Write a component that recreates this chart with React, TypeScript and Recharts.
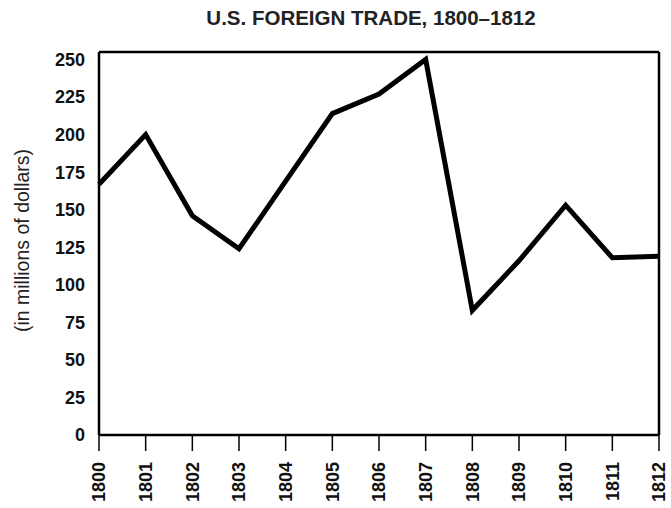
import React from 'react'
import { LineChart, Line, XAxis, YAxis, ReferenceLine } from 'recharts'

const years = ['1800', '1801', '1802', '1803', '1804', '1805', '1806', '1807', '1808', '1809', '1810', '1811', '1812']
const trade = [167, 200, 146, 124, 169, 214, 227, 250, 83, 116, 153, 118, 119]
const yTicks = [0, 25, 50, 75, 100, 125, 150, 175, 200, 225, 250]

const data = years.map((year, i) => ({ year, trade: trade[i] }))

const FONT = '"Liberation Sans", Arial, Helvetica, sans-serif'

const YearTick = (props: any) => {
    const { x, y, payload } = props
    return (
        <text
            x={x}
            y={y}
            transform={`rotate(-90, ${x}, ${y})`}
            textAnchor="end"
            dy="0.36em"
            fontFamily={FONT}
            fontWeight="bold"
            fontSize={18}
            fill="#111"
        >
            {payload.value}
        </text>
    )
}

const App = () => {
    return (
        <div style={{ position: 'absolute', top: 0, left: 0, width: 671, height: 508, background: '#fff' }}>
            <div
                style={{
                    position: 'absolute',
                    top: 6,
                    left: 91,
                    width: 560,
                    textAlign: 'center',
                    fontFamily: FONT,
                    fontWeight: 'bold',
                    fontSize: 20.5,
                    color: '#222',
                }}
            >
                U.S. FOREIGN TRADE, 1800–1812
            </div>
            <LineChart
                width={671}
                height={508}
                data={data}
                margin={{ top: 52, right: 12, bottom: 0, left: 0 }}
            >
                <XAxis
                    dataKey="year"
                    height={73}
                    axisLine={{ stroke: '#000', strokeWidth: 2.5 }}
                    tickLine={{ stroke: '#000', strokeWidth: 1.5 }}
                    tickSize={16}
                    tickMargin={11}
                    interval={0}
                    tick={<YearTick />}
                />
                <YAxis
                    domain={[0, 255]}
                    ticks={yTicks}
                    interval={0}
                    width={99}
                    axisLine={{ stroke: '#000', strokeWidth: 2.5 }}
                    tickLine={false}
                    tickSize={6}
                    tickMargin={8}
                    tick={{ fill: '#111', fontFamily: FONT, fontWeight: 'bold', fontSize: 18 }}
                    label={{
                        value: '(in millions of dollars)',
                        angle: -90,
                        position: 'insideLeft',
                        offset: 22,
                        dy: -3,
                        style: { textAnchor: 'middle', fill: '#222', fontFamily: FONT, fontSize: 19.5 },
                    }}
                />
                <ReferenceLine y={255} stroke="#000" strokeWidth={2.5} />
                <ReferenceLine x="1812" stroke="#000" strokeWidth={2.5} />
                <Line
                    type="linear"
                    dataKey="trade"
                    stroke="#000"
                    strokeWidth={5}
                    dot={false}
                    activeDot={false}
                    isAnimationActive={false}
                />
            </LineChart>
        </div>
    )
}

export default App
